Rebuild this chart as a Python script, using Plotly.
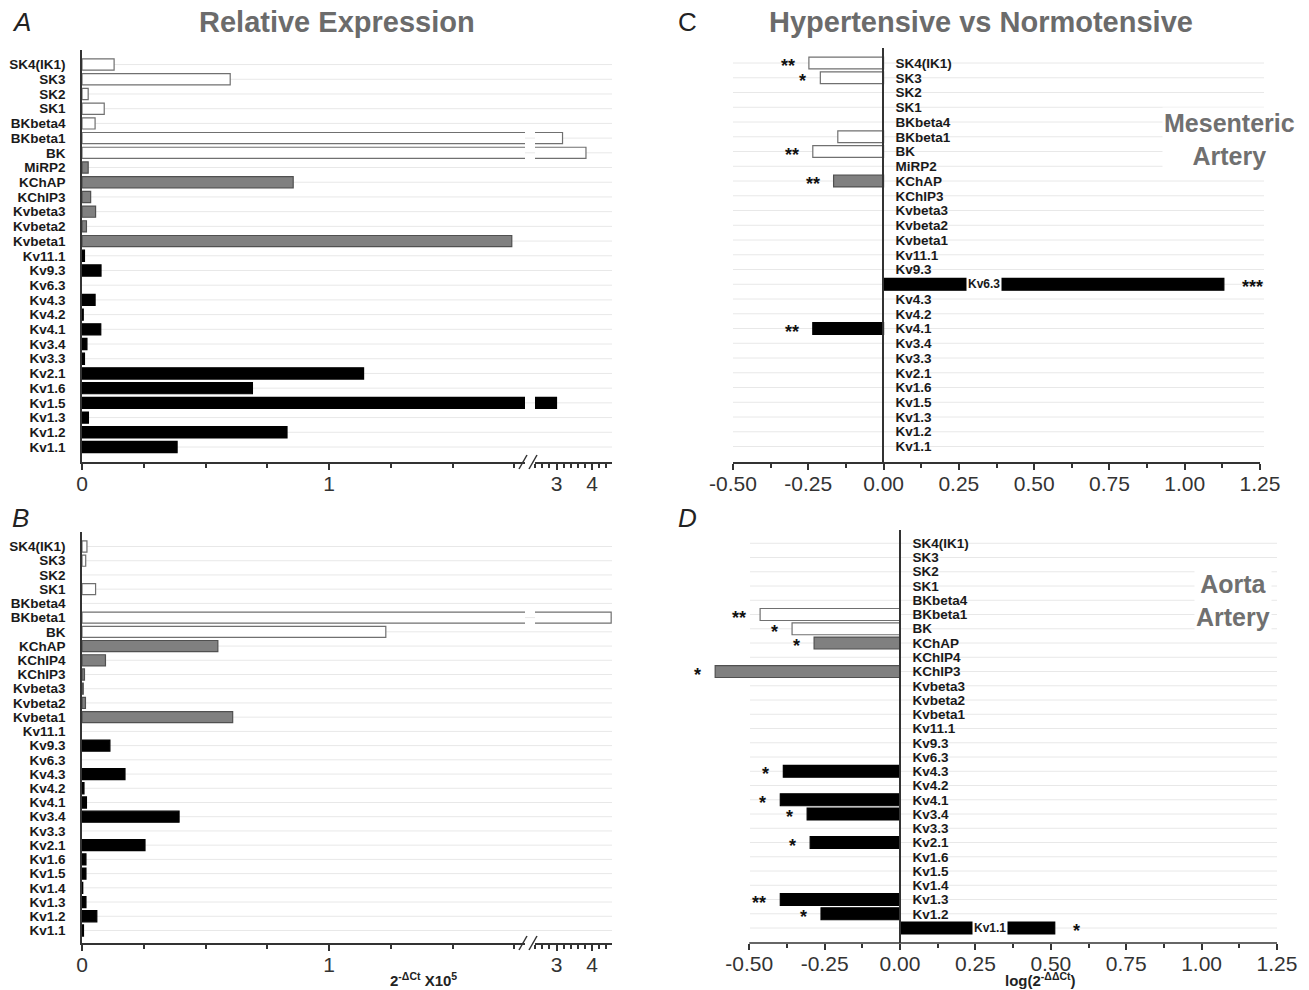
import plotly.graph_objects as go

W, H = 1309, 990
FONT = "Liberation Sans, Arial, sans-serif"

# ---------------- data ----------------
cats_A = ["SK4(IK1)", "SK3", "SK2", "SK1", "BKbeta4", "BKbeta1", "BK", "MiRP2", "KChAP",
          "KChIP3", "Kvbeta3", "Kvbeta2", "Kvbeta1", "Kv11.1", "Kv9.3", "Kv6.3", "Kv4.3",
          "Kv4.2", "Kv4.1", "Kv3.4", "Kv3.3", "Kv2.1", "Kv1.6", "Kv1.5", "Kv1.3", "Kv1.2", "Kv1.1"]
vals_A = [0.13, 0.60, 0.025, 0.09, 0.053, 3.17, 3.83, 0.025, 0.855,
          0.035, 0.055, 0.018, 1.74, 0.01, 0.077, 0.0, 0.053,
          0.005, 0.076, 0.02, 0.01, 1.14, 0.69, 3.0, 0.026, 0.83, 0.385]
grp_A = ["w"] * 7 + ["g"] * 6 + ["k"] * 14

cats_B = ["SK4(IK1)", "SK3", "SK2", "SK1", "BKbeta4", "BKbeta1", "BK", "KChAP", "KChIP4",
          "KChIP3", "Kvbeta3", "Kvbeta2", "Kvbeta1", "Kv11.1", "Kv9.3", "Kv6.3", "Kv4.3",
          "Kv4.2", "Kv4.1", "Kv3.4", "Kv3.3", "Kv2.1", "Kv1.6", "Kv1.5", "Kv1.4", "Kv1.3",
          "Kv1.2", "Kv1.1"]
vals_B = [0.02, 0.015, 0.0, 0.055, 0.0, 4.54, 1.23, 0.55, 0.095,
          0.01, 0.005, 0.014, 0.61, 0.0, 0.113, 0.0, 0.174,
          0.008, 0.018, 0.393, 0.0, 0.255, 0.016, 0.016, 0.003, 0.016,
          0.06, 0.006]
grp_B = ["w"] * 7 + ["g"] * 6 + ["k"] * 15

cats_C = cats_A
vals_C = [-0.248, -0.21, 0, 0, 0, -0.152, -0.235, 0, -0.166,
          0, 0, 0, 0, 0, 0, 1.13, 0,
          0, -0.235, 0, 0, 0, 0, 0, 0, 0, 0]
sig_C = ["**", "*", "", "", "", "", "**", "", "**",
         "", "", "", "", "", "", "***", "",
         "", "**", "", "", "", "", "", "", "", ""]
grp_C = grp_A

cats_D = cats_B
vals_D = [0, 0, 0, 0, 0, -0.464, -0.358, -0.285, 0,
          -0.613, 0, 0, 0, 0, 0, 0, -0.387,
          0, -0.397, -0.308, 0, -0.298, 0, 0, 0, -0.397,
          -0.262, 0.513]
sig_D = ["", "", "", "", "", "**", "*", "*", "",
         "*", "", "", "", "", "", "", "*",
         "", "*", "*", "", "*", "", "", "", "**",
         "*", "*"]
grp_D = grp_B

FILL = {"w": "#ffffff", "g": "#808080", "k": "#000000"}
EDGE = {"w": "#707070", "g": "#505050", "k": "#000000"}


def px(x):
    return x / W


def py(y):
    return 1 - y / H


def bar(vals, grp, xa, ya, width):
    return go.Bar(
        x=[v if v != 0 else None for v in vals], y=list(range(len(vals))),
        orientation="h", xaxis=xa, yaxis=ya, width=width,
        marker=dict(color=[FILL[g] for g in grp],
                    line=dict(color=[EDGE[g] for g in grp], width=1.2)),
        showlegend=False, hoverinfo="skip")


fig = go.Figure()
fig.add_trace(bar(vals_A, grp_A, "x", "y", 0.76))
fig.add_trace(bar(vals_A, grp_A, "x2", "y", 0.76))
fig.add_trace(bar(vals_B, grp_B, "x3", "y2", 0.78))
fig.add_trace(bar(vals_B, grp_B, "x4", "y2", 0.78))
fig.add_trace(bar(vals_C, grp_C, "x5", "y3", 0.8))
fig.add_trace(bar(vals_D, grp_D, "x6", "y4", 0.84))

LINE = "#333333"
tickfont_x = dict(family=FONT, size=21, color="#333333")
catfont = dict(family=FONT, size=13.5, color="#1a1a1a", weight="bold")


def xax(domain, rng, anchor, tv, tt, minor_tv, showline=True):
    return dict(domain=domain, range=rng, anchor=anchor, showline=showline,
                linecolor=LINE, linewidth=1.5, ticks="outside", tickcolor=LINE,
                tickwidth=1.5, ticklen=6, tickmode="array", tickvals=tv, ticktext=tt,
                minor=dict(ticks="outside", ticklen=4, tickcolor=LINE, tickwidth=1.5,
                           tickmode="array", tickvals=minor_tv),
                ticklabelstandoff=-4,
                showgrid=False, zeroline=False, tickfont=tickfont_x, fixedrange=True)


# x geometry for A/B: 0 at 82px, 1 at 329px; right segment 3 at 556.5px, 35.5px/unit
L0, L1, R0, R1 = 82, 525, 535, 612
left_rng = [0, (L1 - L0) / 247.0]
right_rng = [3 - (556.5 - R0) / 35.5, 3 + (R1 - 556.5) / 35.5]
minor_left = [0.25, 0.5, 0.75, 1.25, 1.5, 1.75]
minor_right = [2.4, 2.6, 2.8, 3.2, 3.4, 3.6, 3.8, 4.2, 4.4]

cd_ticks = [-0.5, -0.25, 0, 0.25, 0.5, 0.75, 1.0, 1.25]
cd_text = ["-0.50", "-0.25", "0.00", "0.25", "0.50", "0.75", "1.00", "1.25"]
cd_minor = [-0.375, -0.125, 0.125, 0.375, 0.625, 0.875, 1.125]


def yax_left(domain, rng, anchor, cats):
    return dict(domain=domain, range=rng, anchor=anchor,
                tickmode="array", tickvals=list(range(len(cats))), ticktext=cats,
                showline=True, linecolor=LINE, linewidth=1.5, ticks="",
                tickfont=catfont, showgrid=False, zeroline=False,
                ticklabelstandoff=12, fixedrange=True)


def yax_mid(domain, rng, pos, cats, skip):
    idx = [i for i, c in enumerate(cats) if c != skip]
    return dict(domain=domain, range=rng, anchor="free", position=pos, side="right",
                tickmode="array", tickvals=idx, ticktext=[cats[i] for i in idx],
                showline=True, linecolor=LINE, linewidth=1.5, ticks="",
                tickfont=catfont, showgrid=False, zeroline=False,
                ticklabelstandoff=9, fixedrange=True)


layout = dict(
    width=W, height=H, autosize=False, margin=dict(l=0, r=0, t=0, b=0),
    template="none", paper_bgcolor="white", plot_bgcolor="rgba(0,0,0,0)",
    font=dict(family=FONT, color="#222"),
    xaxis=xax([px(L0), px(L1)], left_rng, "y", [0, 1], ["0", "1"], minor_left),
    xaxis2=xax([px(R0), px(R1)], right_rng, "y", [3, 4], ["3", "4"], minor_right),
    xaxis3=xax([px(L0), px(L1)], left_rng, "y2", [0, 1], ["0", "1"], minor_left),
    xaxis4=xax([px(R0), px(R1)], right_rng, "y2", [3, 4], ["3", "4"], minor_right),
    xaxis5=xax([px(733), px(1260)], [-0.5, 1.25], "y3", cd_ticks, cd_text, cd_minor),
    xaxis6=xax([px(701), px(1277)], [-0.66, 1.25], "y4", cd_ticks, cd_text, cd_minor,
               showline=False),
    yaxis=yax_left([py(462), py(50)], [27.02, -0.99], "x", cats_A),
    yaxis2=yax_left([py(943), py(532)], [27.88, -1.02], "x3", cats_B),
    yaxis3=yax_mid([py(462), py(48)], [27.05, -1.02], px(883), cats_C, "Kv6.3"),
    yaxis4=yax_mid([py(943), py(530)], [28.05, -0.93], px(900), cats_D, "Kv1.1"),
)
fig.update_layout(**layout)

shapes = []
GRID = "#e8e8e8"
for yref, n, x0, x1 in [("y", len(cats_A), 82, 612), ("y2", len(cats_B), 82, 612),
                        ("y3", len(cats_C), 733, 1264), ("y4", len(cats_D), 750, 1277)]:
    for i in range(n):
        shapes.append(dict(type="line", xref="paper", yref=yref, x0=px(x0), x1=px(x1),
                           y0=i, y1=i, line=dict(color=GRID, width=1), layer="below"))
# D axis line only from -0.50 to 1.25
shapes.append(dict(type="line", xref="x6", yref="paper", x0=-0.5, x1=1.25,
                   y0=py(943), y1=py(943), line=dict(color=LINE, width=1.5)))
# axis break marks
for yb in (462, 943):
    for cx in (523, 533):
        shapes.append(dict(type="line", xref="paper", yref="paper",
                           x0=px(cx - 4), y0=py(yb + 7), x1=px(cx + 4), y1=py(yb - 7),
                           line=dict(color=LINE, width=1.5)))
fig.update_layout(shapes=shapes)

ann = []
letter = dict(family=FONT, size=26, color="#222")
title_font = dict(family=FONT, size=29, color="#6b6b6b", weight="bold")


def pann(text, x, y, font, xanchor="center", **kw):
    return dict(text=text, x=px(x), y=py(y), xref="paper", yref="paper",
                xanchor=xanchor, yanchor="middle", showarrow=False, font=font, **kw)


ann.append(pann("<i>A</i>", 10, 22, letter, "left"))
ann.append(pann("<i>B</i>", 10, 518, letter, "left"))
ann.append(pann("C", 676, 22, letter, "left"))
ann.append(pann("<i>D</i>", 676, 518, letter, "left"))
ann.append(pann("Relative Expression", 337, 22, title_font))
ann.append(pann("Hypertensive vs Normotensive", 981, 22, title_font))
side_font = dict(family=FONT, size=25, color="#707070", weight="bold")
ann.append(pann("Mesenteric<br>Artery", 1229, 139, side_font, bgcolor="white"))
ann.append(pann("Aorta<br>Artery", 1233, 600, side_font, bgcolor="white"))
xt_font = dict(family=FONT, size=15, color="#222", weight="bold")
ann.append(pann("2<sup>-\u0394Ct</sup> X10<sup>5</sup>", 423, 979, xt_font))
ann.append(pann("log(2<sup>-\u0394\u0394Ct</sup>)", 1040, 979, xt_font))
# in-bar labels
inbar = dict(family=FONT, size=12, color="#1a1a1a", weight="bold")
ann.append(dict(text="Kv6.3", x=0.334, y=cats_C.index("Kv6.3"), xref="x5", yref="y3",
                xanchor="center", yanchor="middle", showarrow=False, font=inbar,
                bgcolor="white", borderpad=1))
ann.append(dict(text="Kv1.1", x=0.297, y=cats_D.index("Kv1.1"), xref="x6", yref="y4",
                xanchor="center", yanchor="middle", showarrow=False, font=inbar,
                bgcolor="white", borderpad=1))
# significance stars
star_font = dict(family=FONT, size=18, color="#111", weight="bold")
for vals, sig, xr, yr in [(vals_C, sig_C, "x5", "y3"), (vals_D, sig_D, "x6", "y4")]:
    for i, (v, s) in enumerate(zip(vals, sig)):
        if not s:
            continue
        ann.append(dict(text=s, x=v, y=i, xref=xr, yref=yr,
                        xanchor="right" if v < 0 else "left",
                        xshift=-12 if v < 0 else 16, yshift=-3, yanchor="middle",
                        showarrow=False, font=star_font))
fig.update_layout(annotations=ann)

fig.write_html("out.html", config={"displayModeBar": False},
               post_script="document.body.style.margin='0';document.body.style.padding='0';")
